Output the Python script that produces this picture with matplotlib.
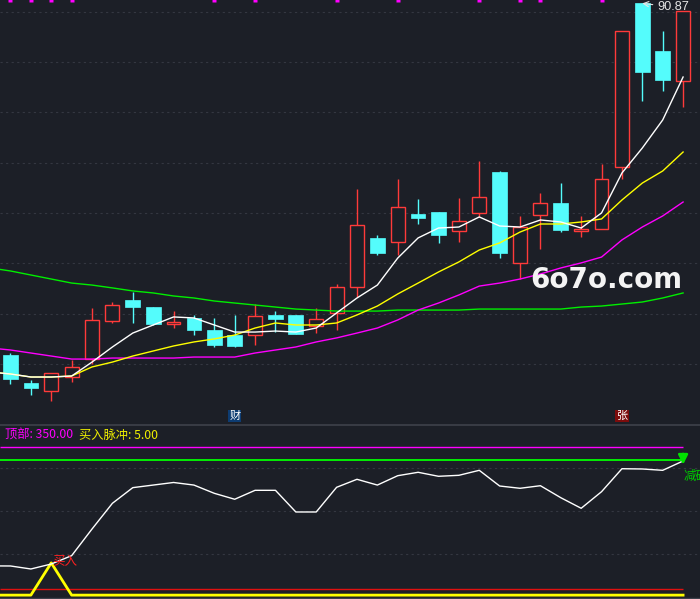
import matplotlib
matplotlib.use("Agg")
import matplotlib.pyplot as plt
import matplotlib.transforms as mtransforms
import numpy as np

plt.rcParams['font.family'] = ['Noto Sans CJK SC', 'DejaVu Sans']

BG = '#1c1f27'
UP = '#ff3a3a'
DOWN = '#54fcfc'
GRID = '#343741'

# daily candles (34 days)
opens = [69.91, 68.24, 67.77, 68.60, 69.67, 71.94, 73.19, 72.77, 71.76, 72.12,
         71.40, 71.10, 71.10, 72.30, 72.30, 71.64, 72.42, 73.97, 76.89, 76.65,
         78.32, 78.44, 77.30, 78.38, 80.82, 75.40, 78.26, 78.97, 77.30, 77.42,
         81.12, 90.87, 88.03, 86.24]
closes = [68.48, 67.95, 68.84, 69.20, 72.00, 72.89, 72.77, 71.76, 71.88, 71.40,
          70.51, 70.45, 72.24, 72.06, 71.16, 72.06, 73.97, 77.66, 75.99, 78.73,
          78.08, 77.06, 77.90, 79.33, 75.99, 77.54, 78.97, 77.36, 77.42, 80.40,
          89.22, 86.78, 86.30, 90.41]
highs = [70.03, 68.42, 68.84, 69.61, 72.71, 73.07, 73.67, 72.77, 72.53, 72.30,
         72.12, 72.30, 72.95, 72.53, 72.30, 72.71, 74.14, 79.81, 77.06, 80.40,
         79.21, 78.44, 79.27, 81.47, 80.88, 78.20, 79.57, 80.16, 78.20, 81.30,
         89.22, 90.87, 89.22, 90.41]
lows = [68.18, 67.53, 67.19, 68.30, 69.38, 71.82, 71.82, 71.70, 71.52, 71.10,
        70.39, 70.39, 70.51, 71.28, 71.16, 71.22, 71.40, 73.37, 75.87, 75.87,
        77.72, 76.59, 76.65, 78.14, 75.69, 74.44, 76.23, 77.24, 76.95, 77.42,
        80.40, 85.05, 85.65, 84.69]

# moving averages, first value is the day before the first candle
ma5 = [68.90, 68.78, 68.60, 68.60, 68.66, 69.49, 70.39, 71.22, 71.70, 72.18,
       72.12, 71.70, 71.28, 71.28, 71.34, 71.28, 71.52, 72.42, 73.31, 74.08,
       75.69, 76.89, 77.48, 77.54, 78.14, 77.60, 77.54, 77.96, 77.84, 77.48,
       78.38, 80.76, 82.25, 83.92, 86.48]
ma10 = [68.90, 68.78, 68.60, 68.60, 68.66, 69.20, 69.49, 69.85, 70.15, 70.45,
        70.69, 70.87, 71.10, 71.52, 71.82, 71.70, 71.70, 71.82, 72.30, 72.83,
        73.55, 74.20, 74.86, 75.46, 76.17, 76.59, 77.24, 77.72, 77.72, 77.84,
        78.02, 79.15, 80.16, 80.88, 82.01]
ma20 = [70.33, 70.21, 70.03, 69.85, 69.67, 69.67, 69.73, 69.73, 69.73, 69.73,
        69.79, 69.79, 69.79, 70.03, 70.21, 70.39, 70.69, 70.93, 71.22, 71.52,
        72.00, 72.59, 73.01, 73.49, 74.02, 74.20, 74.44, 74.74, 75.10, 75.40,
        75.75, 76.77, 77.54, 78.20, 79.03]
ma60 = [75.10, 74.92, 74.68, 74.44, 74.20, 74.08, 73.91, 73.73, 73.61, 73.43,
        73.31, 73.13, 73.01, 72.89, 72.77, 72.65, 72.59, 72.53, 72.53, 72.53,
        72.59, 72.59, 72.59, 72.59, 72.65, 72.65, 72.65, 72.65, 72.65, 72.77,
        72.83, 72.95, 73.07, 73.31, 73.61]

top_marks = [0, 1, 2, 3, 10, 12, 16, 19, 23, 25, 26, 29]

# lower indicator
osc = [73, 72.8, 65.8, 77.4, 96.8, 158.8, 218.6, 255, 261, 267, 261, 241.8,
       228, 248.8, 248.8, 198.4, 198.4, 255.8, 274.4, 261, 282.8, 290.7, 281.4,
       283.7, 295.3, 258.8, 253.5, 259.5, 231.6, 207, 245.6, 299, 298.4, 295.3,
       317]
pulse = [5, 5, 5, 80, 5, 5, 5, 5, 5, 5, 5, 5, 5, 5, 5, 5, 5, 5, 5, 5, 5, 5,
         5, 5, 5, 5, 5, 5, 5, 5, 5, 5, 5, 5, 5]
top_level = 350
sell_level = 320
low_level = 20
buy_day = 2
sell_day = 33

n = len(opens)
idx = np.arange(n)
idx_ma = np.arange(-1, n)

fig = plt.figure(figsize=(7, 5.99), dpi=100, facecolor=BG)
ax = fig.add_axes([0, 174 / 599, 1, 425 / 599])
ax2 = fig.add_axes([0, 0, 1, 174 / 599])

for a in (ax, ax2):
    a.set_facecolor(BG)
    a.set_xlim(-0.515, 33.83)
    a.set_xticks([])
    for s in a.spines.values():
        s.set_visible(False)
    a.tick_params(left=False, labelleft=False)

# main panel
ax.set_ylim(65.74, 91.07)
for g in np.arange(69.37, 91, 3.0):
    ax.axhline(g, color=GRID, lw=0.8, dashes=(2, 3), zorder=1)

o = np.array(opens)
c = np.array(closes)
up = c >= o
colors = np.where(up, UP, DOWN)
ax.vlines(idx, lows, highs, colors=colors, lw=1, zorder=2)
bottoms = np.minimum(o, c)
heights = np.maximum(np.abs(c - o), 0.04)
ax.bar(idx[up], heights[up], 0.68, bottoms[up], facecolor=BG,
       edgecolor=UP, lw=1, zorder=3)
ax.bar(idx[~up], heights[~up], 0.72, bottoms[~up], facecolor=DOWN,
       edgecolor=DOWN, lw=0.5, zorder=3)

ax.plot(idx_ma, ma60, color='#00ee00', lw=1, zorder=4)
ax.plot(idx_ma, ma20, color='#ff00ff', lw=1, zorder=4)
ax.plot(idx_ma, ma10, color='#ffff00', lw=1, zorder=4)
ax.plot(idx_ma, ma5, color='#ffffff', lw=1, zorder=4)

ytop = ax.get_ylim()[1]
ax.plot(top_marks, [ytop] * len(top_marks), 's', color='#ff00ff', ms=2.6,
        mec='none', zorder=5)

hi = int(np.argmax(highs))
ax.annotate(f'{highs[hi]:.2f}', xy=(hi, highs[hi]), xytext=(10.5, -2.7),
            textcoords='offset points', ha='left', va='center',
            color='#e6e6e6', fontsize=9.2, family='Liberation Sans',
            arrowprops=dict(arrowstyle='->', color='#e6e6e6', lw=0.8,
                            shrinkA=1, shrinkB=0), zorder=6)

fig.text(530 / 700, 1 - 288 / 599, '6o7o.com', color='#f4f4f4', fontsize=20,
         family='DejaVu Sans', weight='bold', va='baseline', ha='left')

trans = mtransforms.blended_transform_factory(ax.transData, fig.transFigure)
ax.text(11, 1 - 416 / 599, '财', transform=trans, ha='center', va='center',
        color='white', fontsize=8,
        bbox=dict(boxstyle='square,pad=0.1', fc='#0d3c72', ec='none'))
ax.text(30, 1 - 416 / 599, '张', transform=trans, ha='center', va='center',
        color='white', fontsize=8,
        bbox=dict(boxstyle='square,pad=0.1', fc='#7c0c0c', ec='none'))

# lower panel
ax2.set_ylim(-4, 400.7)
ax2.spines['top'].set_visible(True)
ax2.spines['top'].set_color('#3e414b')
ax2.spines['top'].set_linewidth(1.2)
for g in (100, 200, 300):
    ax2.axhline(g, color=GRID, lw=0.8, dashes=(2, 3), zorder=1)
ax2.axhline(-1, color='#3e414b', lw=1, zorder=1)

ax2.hlines(top_level, -0.515, 33, color='#ff00ff', lw=1, zorder=3)
ax2.hlines(sell_level, -0.515, 33, color='#00ff00', lw=1.3, zorder=3)
ax2.hlines(low_level, -0.515, 33, color='#e01010', lw=1, zorder=3)
ax2.plot(idx_ma, pulse, color='#ffff00', lw=2, zorder=4)
ax2.plot(idx_ma, osc, color='white', lw=1, zorder=4)

ax2.text(buy_day + 0.03, 82, '买入', color='#ff2020', fontsize=9,
         ha='left', va='center', zorder=5)
ax2.annotate('', xy=(sell_day, 302), xytext=(sell_day, 340),
             arrowprops=dict(arrowstyle='-|>', color='#00e000', lw=1.8,
                             mutation_scale=14), zorder=5)
ax2.text(sell_day + 0.02, 280, '减码', color='#00c800', fontsize=9,
         ha='left', va='center', zorder=5)

fig.text(5 / 700, 1 - 435 / 599, f'顶部: {top_level:.2f}', color='#ff00ff',
         fontsize=8.8, ha='left', va='center')
fig.text(79 / 700, 1 - 435 / 599, '买入脉冲: 5.00', color='#f0f000',
         fontsize=8.8, ha='left', va='center')

fig.savefig('out.png', dpi=100, facecolor=BG)
